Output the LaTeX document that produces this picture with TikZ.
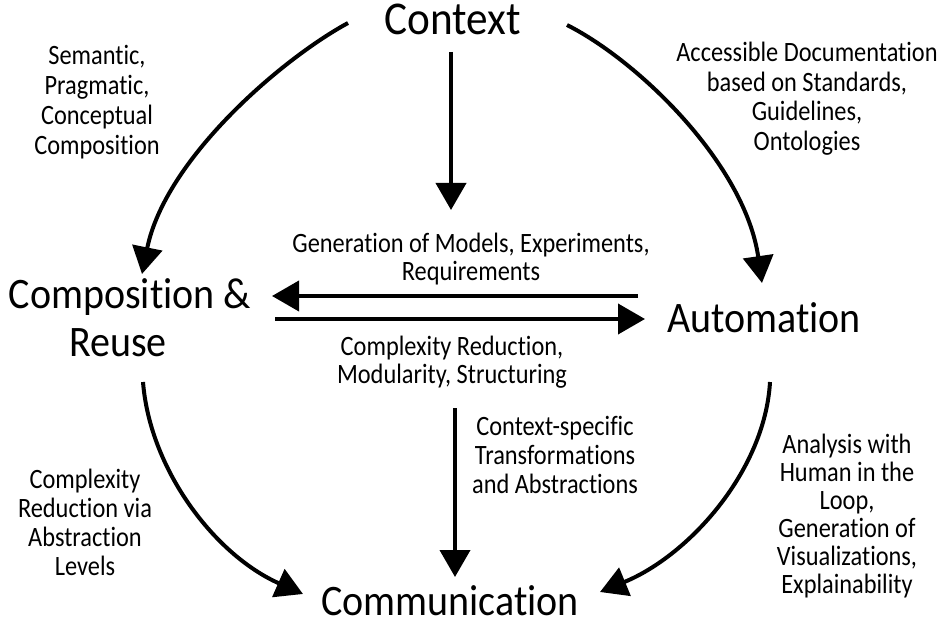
\documentclass[tikz,border=0pt]{standalone}
\usepackage{fontspec}
\setmainfont{Carlito}[Ligatures=CommonOff]
\newfontfamily\smallfont{Carlito}[FakeStretch=0.87,Ligatures=CommonOff]
\newfontfamily\bigfont{Carlito}[FakeStretch=0.92,Ligatures=CommonOff]
\usetikzlibrary{arrows.meta}
\newcommand{\mlines}[2]{\vtop{\baselineskip=#1pt\lineskiplimit=-100pt\lineskip=0pt\halign{\hfil##\hfil\cr#2\crcr}}}
\begin{document}
\begin{tikzpicture}[x=1pt,y=-1pt,
  conn/.style={line width=4pt, -{Triangle[width=30pt,length=27pt]}},
  big/.style={font=\bigfont\fontsize{43.5}{48}\selectfont, inner sep=0pt, anchor=base},
  small/.style={font=\smallfont\fontsize{28}{29}\selectfont, inner sep=0pt, anchor=base}]
\useasboundingbox (0,0) rectangle (943,623);
% main concepts
\node[big, font=\bigfont\fontsize{47}{48}\selectfont] (ctx) at (453,35) {Context};
\node[big] (comp) at (130,308) {\mlines{48}{Composition \&\cr Reuse\hskip24pt}};
\node[big] (auto) at (764,332) {Automation};
\node[big] (comm) at (450,615) {Communication};
% labels
\node[small] (l1) at (97,65) {\mlines{30}{Semantic,\cr Pragmatic,\cr Conceptual\cr Composition}};
\node[small] (l2) at (807,62) {\mlines{29.5}{Accessible Documentation\cr based on Standards,\cr Guidelines,\cr Ontologies}};
\node[small] (l3) at (471,252) {\mlines{28}{Generation of Models, Experiments,\cr Requirements}};
\node[small] (l4) at (452,355) {\mlines{28}{Complexity Reduction,\cr Modularity, Structuring}};
\node[small] (l5) at (555,435) {\mlines{29}{Context-specific\cr Transformations\cr and Abstractions}};
\node[small] (l6) at (85,488) {\mlines{29}{Complexity\cr Reduction via\cr Abstraction\cr Levels}};
\node[small] (l7) at (847,453) {\mlines{28}{Analysis with\cr Human in the\cr Loop,\cr Generation of\cr Visualizations,\cr Explainability}};
% connector ends
\coordinate (ulS) at (348,23);
\coordinate (ulT) at (142,274);
\coordinate (urS) at (567,25);
\coordinate (urT) at (762,283);
\coordinate (llS) at (143,382);
\coordinate (llT) at (303,594);
\coordinate (lrS) at (770,382);
\coordinate (lrT) at (600,592);
\coordinate (vtS) at (451,52);
\coordinate (vtT) at (451,210);
\coordinate (vbS) at (455,408);
\coordinate (vbT) at (455,577);
\coordinate (htS) at (638,296);
\coordinate (htT) at (272,296);
\coordinate (hbS) at (275,319);
\coordinate (hbT) at (645,319);
% connectors
\draw[conn] (ulS) .. controls (280,60) and (165,160) .. (ulT);
\draw[conn] (urS) .. controls (640,62) and (745,165) .. (urT);
\draw[conn] (llS) .. controls (150,470) and (215,555) .. (llT);
\draw[conn] (lrS) .. controls (765,470) and (690,555) .. (lrT);
\draw[conn] (vtS) -- (vtT);
\draw[conn] (vbS) -- (vbT);
\draw[conn] (htS) -- (htT);
\draw[conn] (hbS) -- (hbT);
\end{tikzpicture}
\end{document}
